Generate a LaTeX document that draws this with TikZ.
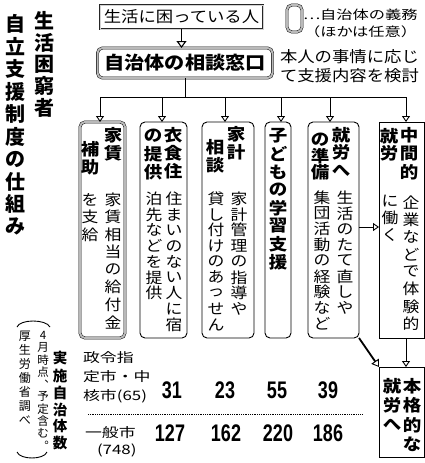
\documentclass[tikz,border=0pt]{standalone}
\usepackage{fontspec}
\usetikzlibrary{arrows.meta}
\newfontfamily\jp{Noto Sans CJK JP}[FakeStretch=1.12]
\newfontfamily\jpf{Noto Sans CJK JP}[FakeStretch=1.3]
\newfontfamily\jpt{Noto Sans CJK JP}
\newfontfamily\numf{Liberation Sans}[FakeStretch=0.75]
\makeatletter
\newcommand\vcol[2]{\vtop{\offinterlineskip\@tfor\vc@c:=#2\do{\vbox to #1{\vss\hbox to 1.12em{\hss\vc@c\hss}\vss}}}}
\makeatother
\begin{document}
\begin{tikzpicture}[x=1pt,y=-1pt,
  every node/.style={inner sep=0pt, outer sep=0pt},
  mand/.style={draw=black, line width=0.45pt, double=gray!55, double distance=2pt, rounded corners=5pt},
  opt/.style={draw=black, line width=0.9pt, rounded corners=5pt},
  sq/.style={draw=black, line width=0.9pt},
  topbox/.style={draw=black!85, line width=0.4pt, double=gray!35, double distance=0.9pt},
  arr/.style={line width=0.9pt, -{Triangle[open, length=6pt, width=8pt]}},
  col/.style={anchor=north, inner sep=0pt},
  hd/.style={font=\jp\bfseries\fontsize{16.5}{16.5}\selectfont},
  bd/.style={font=\jp\fontsize{15}{15}\selectfont},
  ttl/.style={font=\jpt\bfseries\fontsize{20}{20}\selectfont},
  num/.style={font=\numf\bfseries\fontsize{24}{24}\selectfont},
  tlab/.style={anchor=west, font=\jpf\fontsize{13}{13}\selectfont},
]
\useasboundingbox (0,0) rectangle (425,463);

% title
\node[col, ttl] (t1) at (45,10) {\vcol{21.7pt}{生活困窮者}};
\node[col, ttl] (t2) at (16,13) {\vcol{22.5pt}{自立支援制度の仕組み}};

% top
\node[topbox, minimum width=163pt, minimum height=24pt, font=\jp\fontsize{15.5}{15.5}\selectfont] (person) at (181.5,17) {生活に困っている人};
\node[mand, minimum width=15pt, minimum height=27pt] (legend) at (294.5,18.5) {};
\node[anchor=west, font=\jpf\fontsize{12.5}{12.5}\selectfont] (leg1) at (303,15) {…自治体の義務};
\node[anchor=west, font=\jpf\fontsize{12.5}{12.5}\selectfont] (leg2) at (304,32) {（ほかは任意）};

\node[mand, minimum width=175pt, minimum height=30pt, font=\jp\bfseries\fontsize{18}{18}\selectfont] (madoguchi) at (185,63) {自治体の相談窓口};
\node[anchor=west, font=\jp\fontsize{15.5}{15.5}\selectfont] (note1) at (280,57) {本人の事情に応じ};
\node[anchor=west, font=\jp\fontsize{15.5}{15.5}\selectfont] (note2) at (280,76) {て支援内容を検討};

\draw[line width=1.1pt, -{Triangle[open, length=7pt, width=10pt]}] (person.south) -- (person.south |- madoguchi.north);

% boxes
\node[mand, minimum width=45pt, minimum height=216pt] (b1) at (102.5,230) {};
\node[opt, minimum width=47pt, minimum height=216pt] (b2) at (163.5,230) {};
\node[opt, minimum width=52pt, minimum height=216pt] (b3) at (228,230) {};
\node[opt, minimum width=26pt, minimum height=216pt] (b4) at (278,230) {};
\node[opt, minimum width=51pt, minimum height=216pt] (b5) at (333.5,230) {};
\node[sq, minimum width=45pt, minimum height=216pt] (b6) at (401.5,230) {};
\node[sq, minimum width=45pt, minimum height=90pt] (b7) at (401.5,412) {};

% branch
\coordinate (hub) at (185,97);
\coordinate (d1) at (100,97);
\coordinate (d2) at (162,97);
\coordinate (d3) at (225,97);
\coordinate (d4) at (281,97);
\coordinate (d5) at (330,97);
\coordinate (d6) at (406,97);
\draw[line width=0.9pt] (madoguchi.south) -- (hub);
\draw[line width=0.9pt] (d1) -- (d6);
\foreach \d/\b in {d1/b1,d2/b2,d3/b3,d4/b4,d5/b5,d6/b6}
  \draw[arr] (\d) -- (\d |- \b.north);

% box texts
\node[col, hd] (h1a) at (113,126) {\vcol{18pt}{家賃}};
\node[col, hd] (h1b) at (90,140) {\vcol{18pt}{補助}};
\node[col, bd] (t1a) at (113,191) {\vcol{17.5pt}{家賃相当の給付金}};
\node[col, bd] (t1b) at (90,191) {\vcol{17.5pt}{を支給}};

\node[col, hd] (h2a) at (173,126) {\vcol{18pt}{衣食住}};
\node[col, hd] (h2b) at (153,127) {\vcol{18pt}{の提供}};
\node[col, bd] (t2a) at (174,191) {\vcol{15.7pt}{住まいのない人に宿}};
\node[col, bd] (t2b) at (154,191) {\vcol{15.7pt}{泊先などを提供}};

\node[col, hd] (h3a) at (236,125) {\vcol{18pt}{家計}};
\node[col, hd] (h3b) at (215,138) {\vcol{18pt}{相談}};
\node[col, bd] (t3a) at (239,191) {\vcol{15.7pt}{家計管理の指導や}};
\node[col, bd] (t3b) at (216,191) {\vcol{15.7pt}{貸し付けのあっせん}};

\node[col, hd] (h4) at (278,127) {\vcol{18pt}{子どもの学習支援}};

\node[col, hd] (h5a) at (341,126) {\vcol{17.7pt}{就労へ}};
\node[col, hd] (h5b) at (320,131) {\vcol{16.5pt}{の準備}};
\node[col, bd] (t5a) at (345,190) {\vcol{15.7pt}{生活のたて直しや}};
\node[col, bd] (t5b) at (322,190) {\vcol{15.7pt}{集団活動の経験など}};

\node[col, hd] (h6a) at (409,126) {\vcol{18.5pt}{中間的}};
\node[col, hd] (h6b) at (389,128) {\vcol{17pt}{就労}};
\node[col, bd] (t6a) at (411,194) {\vcol{17.3pt}{企業などで体験的}};
\node[col, bd] (t6b) at (390,192) {\vcol{17.3pt}{に働く}};

\node[col, hd] (h7a) at (412,376) {\vcol{19.5pt}{本格的な}};
\node[col, hd] (h7b) at (392,376) {\vcol{19.5pt}{就労へ}};

% side arrows
\coordinate (m56) at (0,227);
\draw[arr] (b5.east |- m56) -- (b6.west |- m56);
\draw[line width=1.8pt, -{Triangle[open, length=7pt, width=9pt, line width=0.9pt]}] (b5.south east) -- (b7.north west);
\draw[arr] (d6 |- b6.south) -- (d6 |- b7.north);

% table
\node[col, font=\jpt\bfseries\fontsize{14.5}{14.5}\selectfont] (jisshi) at (60,350) {\vcol{17pt}{実施自治体数}};
\node[col, font=\jpt\fontsize{11.5}{11.5}\selectfont] (src1) at (43,329) {\vcol{12.3pt}{4月時点︑予定含む︒}};
\node[col, font=\jpt\fontsize{12}{12}\selectfont] (src2) at (25,329) {\vcol{14pt}{厚生労働省調べ}};
\draw[line width=0.9pt] (17,327) .. controls (20,319) and (46,319) .. (50,327);
\draw[line width=0.9pt] (17,452) .. controls (20,460) and (44,460) .. (47,452);

\node[tlab] (r1a) at (83,358) {政令指};
\node[tlab] (r1b) at (83,377) {定市・中};
\node[tlab] (r1c) at (83,396) {核市(65)};
\node[tlab] (r2a) at (85,433) {一般市};
\node[tlab] (r2b) at (97,450) {(748)};

\node[num] (n11) at (172,390) {31};
\node[num] (n12) at (225,390) {23};
\node[num] (n13) at (277,390) {55};
\node[num] (n14) at (328,390) {39};
\node[num] (n21) at (170,433) {127};
\node[num] (n22) at (226,433) {162};
\node[num] (n23) at (278,433) {220};
\node[num] (n24) at (328,433) {186};
\draw[densely dotted, line width=0.8pt] (88,414) -- (362,414);
\end{tikzpicture}
\end{document}
